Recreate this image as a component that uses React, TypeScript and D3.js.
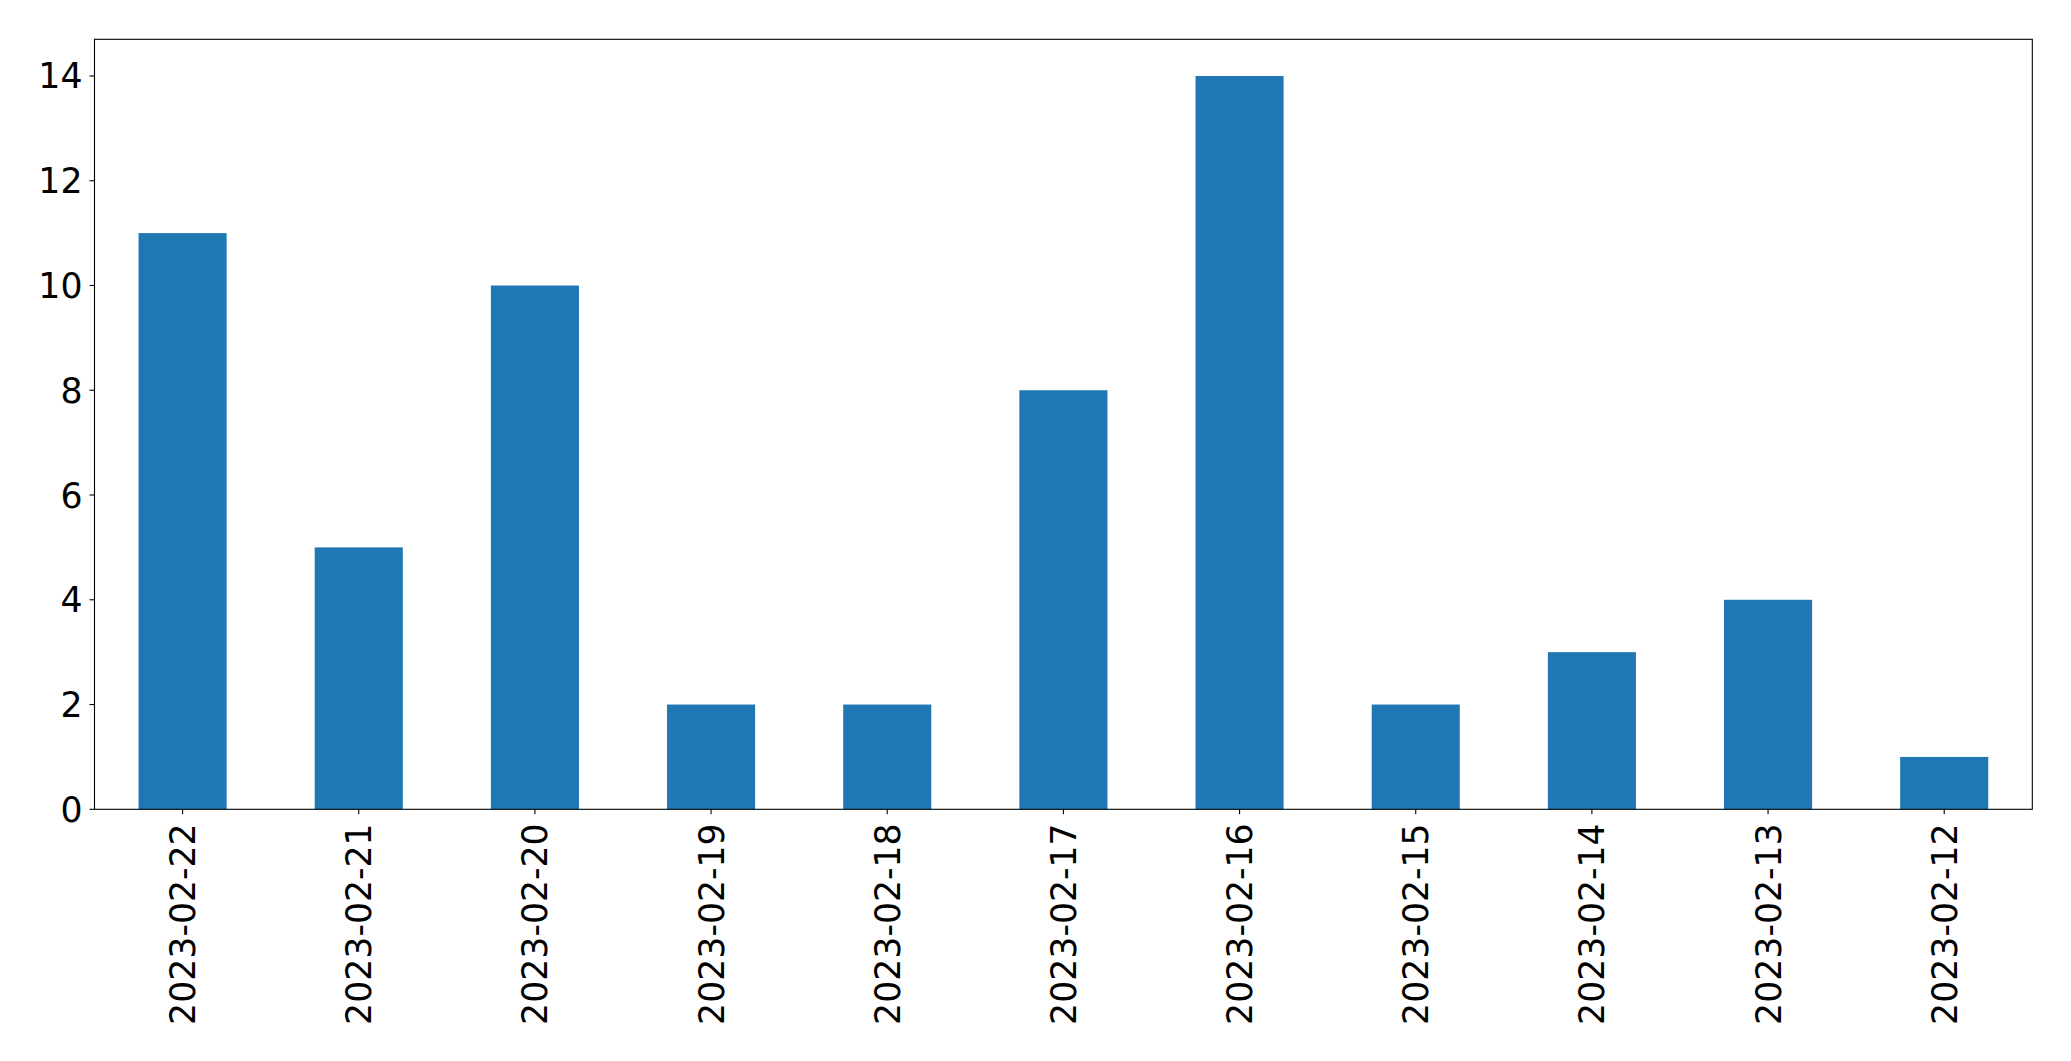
import React from "react";
import * as d3 from "d3";

const categories = ["2023-02-22","2023-02-21","2023-02-20","2023-02-19","2023-02-18","2023-02-17","2023-02-16","2023-02-15","2023-02-14","2023-02-13","2023-02-12"];
const values = [11, 5, 10, 2, 2, 8, 14, 2, 3, 4, 1];
const yTicks = [0, 2, 4, 6, 8, 10, 12, 14];

const W = 2071, H = 1061;
const L = 94.5, R = 2032.3, T = 39.3, B = 809.3;
const FONT = "DejaVu Sans, sans-serif";
const FS = 34.7;

export default function App() {
  const x = d3.scaleBand<string>().domain(categories).range([L, R]).paddingInner(0.5).paddingOuter(0.25);
  const y = d3.scaleLinear().domain([0, 14.7]).range([B, T]);
  return (
    <svg width={W} height={H} style={{ position: "absolute", left: 0, top: 0 }}>
      <rect x={0} y={0} width={W} height={H} fill="#fff" />
      {categories.map((c, i) => (
        <rect key={c} x={x(c)!} y={y(values[i])} width={x.bandwidth()} height={y(0) - y(values[i])} fill="#1f77b4" />
      ))}
      <rect x={L} y={T} width={R - L} height={B - T} fill="none" stroke="#000" strokeWidth={1.1} />
      {yTicks.map((t) => (
        <g key={t}>
          <line x1={L - 5} x2={L} y1={y(t)} y2={y(t)} stroke="#000" strokeWidth={1.1} />
          <text x={L - 12} y={y(t)} dy="0.36em" textAnchor="end" fontFamily={FONT} fontSize={FS} fill="#000">{t}</text>
        </g>
      ))}
      {categories.map((c) => {
        const cx = x(c)! + x.bandwidth() / 2;
        return (
          <g key={c}>
            <line x1={cx} x2={cx} y1={B} y2={B + 5} stroke="#000" strokeWidth={1.1} />
            <text transform={`translate(${cx},${B + 14}) rotate(-90)`} dy="0.36em" textAnchor="end" fontFamily={FONT} fontSize={FS} fill="#000">{c}</text>
          </g>
        );
      })}
    </svg>
  );
}
